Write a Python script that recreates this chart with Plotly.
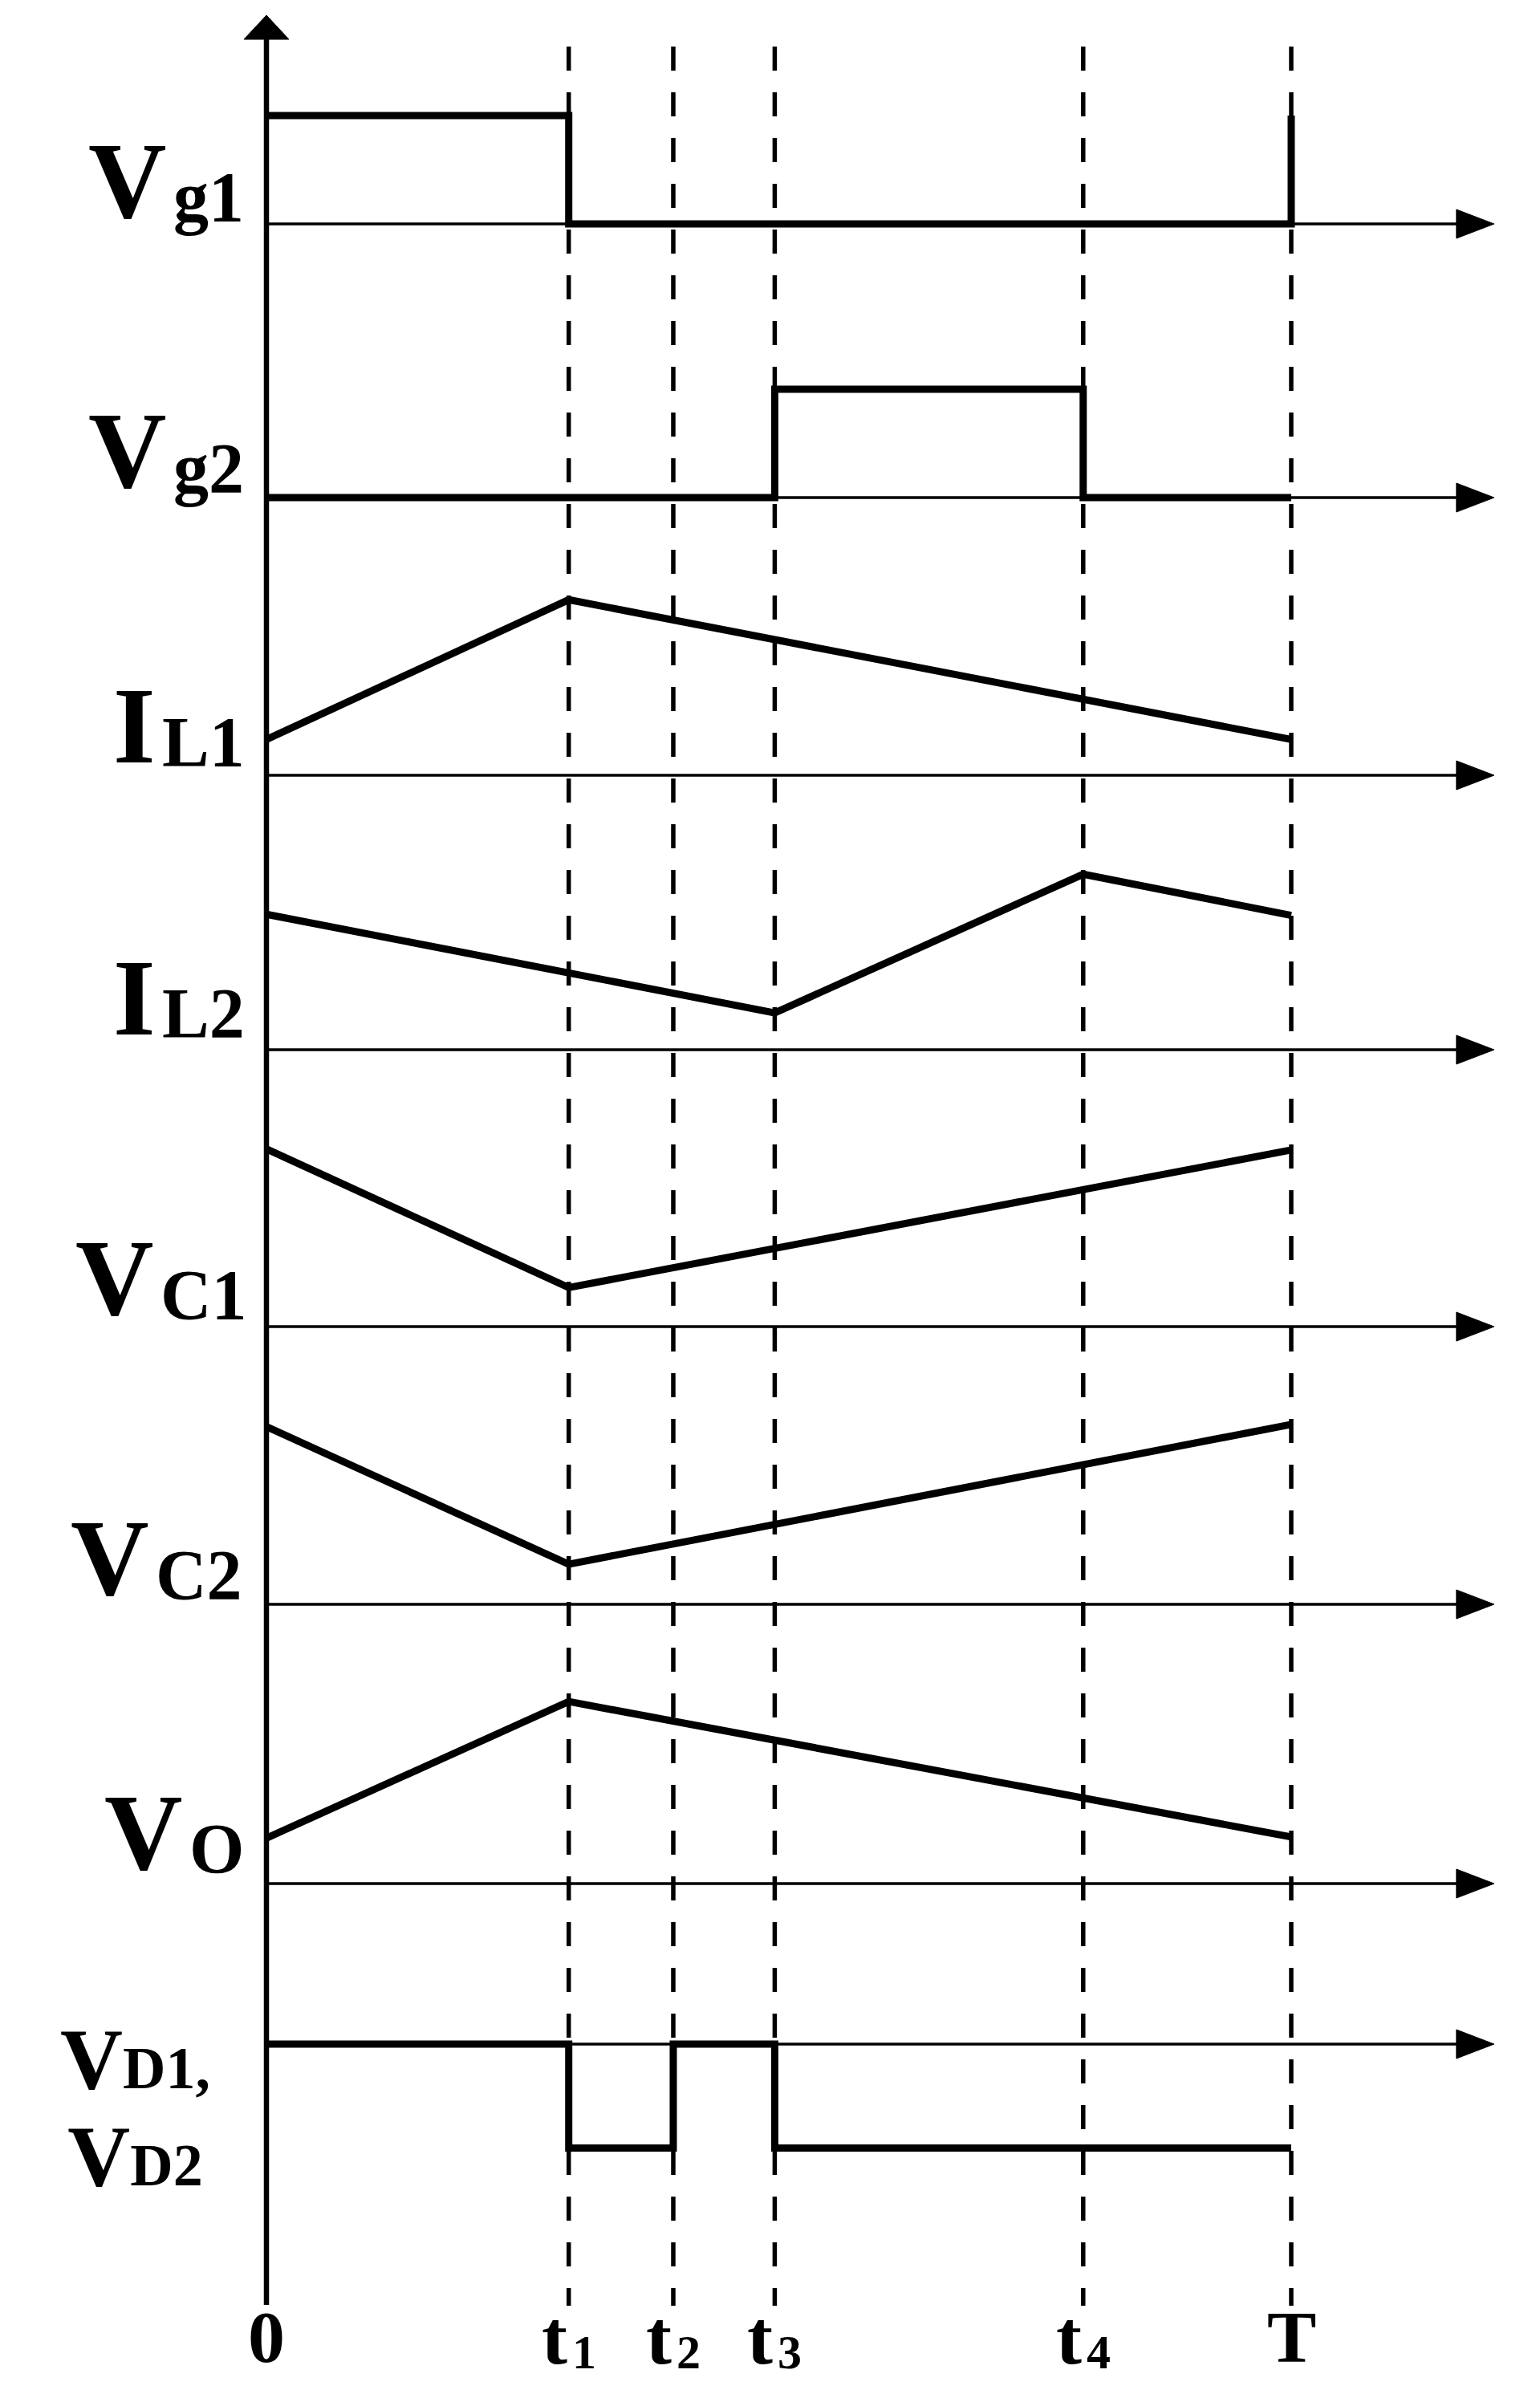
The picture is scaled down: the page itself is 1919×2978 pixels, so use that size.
import plotly.graph_objects as go

# switching instants (T = 1)
t0, t1, t2, t3, t4, tT = 0.0, 0.295, 0.397, 0.496, 0.797, 1.0

# waveforms, one unit = gate pulse height
vg1_x = [t0, t1, t1, tT, tT]
vg1_y = [1, 1, 0, 0, 1]
vg2_x = [t0, t3, t3, t4, t4, tT]
vg2_y = [0, 0, 1, 1, 0, 0]
il1_x = [t0, t1, tT]
il1_y = [0.33, 1.62, 0.33]
il2_x = [t0, t3, t4, tT]
il2_y = [1.25, 0.34, 1.62, 1.24]
vc1_x = [t0, t1, tT]
vc1_y = [1.64, 0.36, 1.63]
vc2_x = [t0, t1, tT]
vc2_y = [1.64, 0.37, 1.66]
vo_x = [t0, t1, tT]
vo_y = [0.42, 1.68, 0.43]
vd_x = [t0, t1, t1, t2, t2, t3, t3, tT]
vd_y = [0, 0, -0.96, -0.96, 0, 0, -0.96, -0.96]

waves = [(vg1_x, vg1_y), (vg2_x, vg2_y), (il1_x, il1_y), (il2_x, il2_y),
         (vc1_x, vc1_y), (vc2_x, vc2_y), (vo_x, vo_y), (vd_x, vd_y)]

tick_times = [t0, t1, t2, t3, t4, tT]
tick_main = ["0", "t", "t", "t", "t", "T"]
tick_sub = ["", "1", "2", "3", "4", ""]

# layout in page pixels (browser body margin is 8px)
OFF = 8
W, H = 1919 - 2 * OFF, 2978 - 2 * OFF
X0_PX, UNIT_X = 332, 1277        # page x of t=0, px per period
UNIT_Y = 135                     # px per waveform unit
row_base = [279, 620, 966, 1308, 1653, 1999, 2347, 2547]
X_ARROW = 1.198                  # axis arrow tip, in periods

x_lo = -(X0_PX - OFF) / UNIT_X
x_hi = x_lo + W / UNIT_X


def py(y):
    return 1 - (y - OFF) / H


def px(x):
    return (x - OFF) / W


fig = go.Figure()
layout = dict(
    width=W, height=H, autosize=False,
    margin=dict(l=0, r=0, t=0, b=0),
    paper_bgcolor="white", plot_bgcolor="rgba(0,0,0,0)",
    showlegend=False,
    xaxis=dict(range=[x_lo, x_hi], domain=[0, 1], visible=False, fixedrange=True),
)

shapes = []
lo, hi = -1.3, 2.0
for i, (b, (wx, wy)) in enumerate(zip(row_base, waves)):
    name = "y" if i == 0 else f"y{i + 1}"
    key = "yaxis" if i == 0 else f"yaxis{i + 1}"
    layout[key] = dict(range=[lo, hi], anchor="x", visible=False, fixedrange=True,
                       domain=[py(b - lo * UNIT_Y), py(b - hi * UNIT_Y)])
    # time axis with arrow
    shapes.append(dict(type="line", xref="x", yref=name, x0=0, x1=X_ARROW - 0.03,
                       y0=0, y1=0, line=dict(color="black", width=3.5)))
    shapes.append(dict(type="path", xref="x", yref=name, xsizemode="pixel",
                       ysizemode="pixel", xanchor=X_ARROW, yanchor=0,
                       path="M0,0 L-47,18 L-47,-18 Z", fillcolor="black",
                       line=dict(color="black", width=1)))
    fig.add_trace(go.Scatter(x=wx, y=wy, mode="lines", xaxis="x", yaxis=name,
                             line=dict(color="black", width=9), hoverinfo="skip"))

# vertical axis with arrow
shapes.append(dict(type="line", xref="x", yref="paper", x0=0, x1=0,
                   y0=py(2872), y1=py(45), line=dict(color="black", width=6.5)))
shapes.append(dict(type="path", xref="x", yref="paper", xsizemode="pixel",
                   ysizemode="pixel", xanchor=0, yanchor=py(19),
                   path="M0,0 L-28,-30 L28,-30 Z", fillcolor="black",
                   line=dict(color="black", width=1)))

# dashed instants
for t in tick_times[1:]:
    shapes.append(dict(type="line", xref="x", yref="paper", x0=t, x1=t,
                       y0=py(58), y1=py(2873),
                       line=dict(color="black", width=5.5, dash="30px,27px")))

layout["shapes"] = shapes

FONT = "Liberation Serif, Times New Roman, serif"
BIG, SMALL = 135, 88
ann = []


def label(main, sub, xj, cy_main, cy_sub):
    ann.append(dict(text=f"<b>{main}</b>", xref="paper", yref="paper",
                    x=px(xj), y=py(cy_main), xanchor="right", yanchor="middle",
                    showarrow=False, font=dict(family=FONT, size=BIG, color="black")))
    ann.append(dict(text=f"<b>{sub}</b>", xref="paper", yref="paper",
                    x=px(xj + 4), y=py(cy_sub), xanchor="left", yanchor="middle",
                    showarrow=False, font=dict(family=FONT, size=SMALL, color="black")))


label("V", "g1", 210, 225, 246)
label("V", "g2", 210, 562, 584)
label("I", "L1", 196, 905, 925)
label("I", "L2", 196, 1243, 1262)
label("V", "C1", 194, 1592, 1613)
label("V", "C2", 188, 1941, 1962)
label("V", "O", 230, 2283, 2303)


# two-line diode label as one text block (line spacing = 1.3 x base size)
def part(main, sub):
    return (f"<span style='font-size:108px'>{main}</span>"
            f"<span style='font-size:74px'>{sub}</span>")


vd_text = "<b>" + part("V", "D1,") + "<br>" + part("V", "D2") + "</b>"
ann.append(dict(text=vd_text, xref="paper", yref="paper", x=px(168), y=py(2626),
                xanchor="center", yanchor="middle", align="center", showarrow=False,
                font=dict(family=FONT, size=93, color="black")))

for t, m, s in zip(tick_times, tick_main, tick_sub):
    xc = X0_PX + t * UNIT_X
    if s:
        ann.append(dict(text=f"<b>{m}</b>", xref="paper", yref="paper",
                        x=px(xc), y=py(2912), xanchor="right", yanchor="middle",
                        showarrow=False, font=dict(family=FONT, size=96, color="black")))
        ann.append(dict(text=f"<b>{s}</b>", xref="paper", yref="paper",
                        x=px(xc + 2), y=py(2931), xanchor="left", yanchor="middle",
                        showarrow=False, font=dict(family=FONT, size=60, color="black")))
    else:
        ann.append(dict(text=f"<b>{m}</b>", xref="paper", yref="paper",
                        x=px(xc), y=py(2912), xanchor="center", yanchor="middle",
                        showarrow=False, font=dict(family=FONT, size=92, color="black")))

layout["annotations"] = ann
fig.update_layout(**layout)
fig.write_html("out.html")
